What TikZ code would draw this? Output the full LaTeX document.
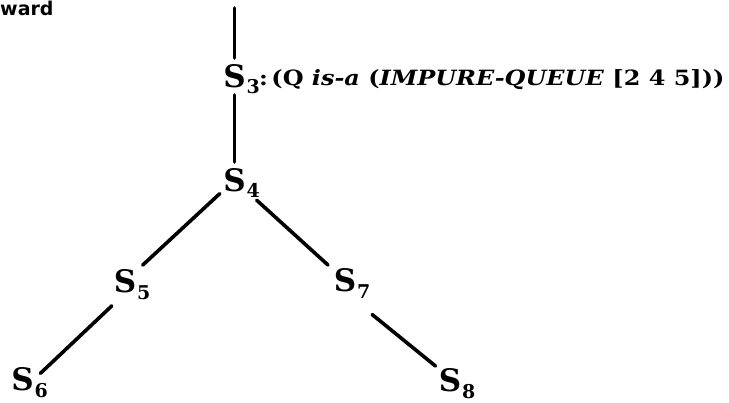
\documentclass[tikz,border=0pt]{standalone}
\usepackage{fontspec}
\setmainfont{DejaVu Serif}
\newfontfamily\headfont{DejaVu Sans}
\usetikzlibrary{positioning}
\newcommand{\stlbl}[1]{S\rlap{\smash{\hspace{1pt}\raisebox{-6.5pt}{\fontsize{19}{19}\selectfont #1}}}}
\tikzset{
  state/.style={font=\fontsize{31}{33}\selectfont\bfseries, inner sep=0pt},
  link/.style={line width=3.6pt, line cap=round},
}

\begin{document}
\begin{tikzpicture}[x=1pt,y=-1pt]
  \useasboundingbox (0,0) rectangle (729,403);
  \node[anchor=base west, inner sep=0pt, font=\headfont\bfseries\fontsize{19}{20}\selectfont] (cut) at (0,15.5) {ward};
  % search states
  \coordinate (top) at (234.5,8);
  \node[state] (s3) at (234.5,76) {\stlbl{3}};
  \node[anchor=base west, inner sep=0pt, font=\fontsize{21}{23}\selectfont\bfseries] (s3txt) at (259,86)
    {\scalebox{1.14}[1]{:\hspace{3pt}(Q \textit{is-a} (\textit{IMPURE-QUEUE} [2 4 5]))}};
  \node[state] (s4) at (234.5,180) {\stlbl{4}};
  \node[state] (s5) at (125,281.5) {\stlbl{5}};
  \node[state] (s7) at (345,280.5) {\stlbl{7}};
  \node[state] (s6) at (22.5,379.5) {\stlbl{6}};
  \node[state] (s8) at (450,380.5) {\stlbl{8}};
  % links
  \draw[link, shorten >=18pt] (top) -- (s3.center);
  \draw[link, shorten <=19pt, shorten >=18pt] (s3.center) -- (s4.center);
  \draw[link, shorten <=20pt, shorten >=24pt] (s4.center) -- (s5.center);
  \draw[link, shorten <=30pt, shorten >=23pt] (s4.center) -- (s7.center);
  \draw[link, shorten <=18pt, shorten >=9pt] (s5.south) -- (s6.east);
  \draw[link, shorten <=35pt, shorten >=4pt] (s7.south) -- (s8.north west);
\end{tikzpicture}
\end{document}
